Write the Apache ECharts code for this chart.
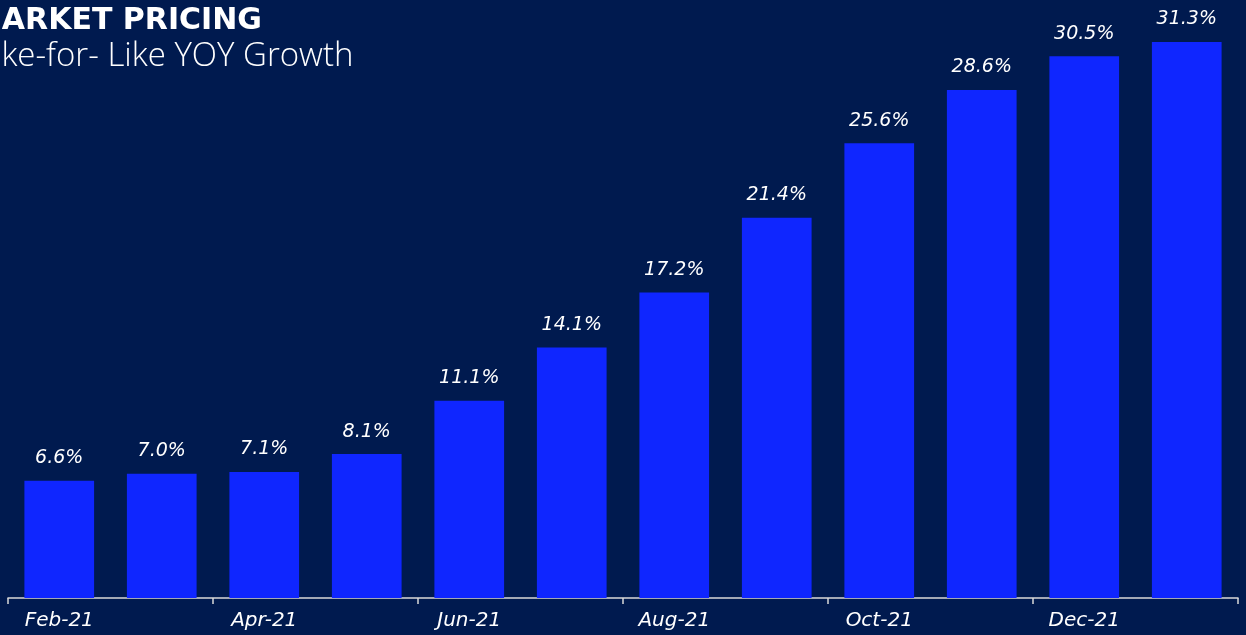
<!DOCTYPE html>
<html>
  <head>
      <meta charset="utf-8">
      <script src="https://cdn.jsdelivr.net/npm/echarts@6/dist/echarts.min.js"></script>
      <style>
        html, body { margin: 0; padding: 0; background: #001a4f; }
      </style>
  </head>
  <body>
      <div id="main" style="width: 1246px;height:635px;"></div>
      <script type="text/javascript">
          var months = ['Feb-21', 'Mar-21', 'Apr-21', 'May-21', 'Jun-21', 'Jul-21',
                        'Aug-21', 'Sep-21', 'Oct-21', 'Nov-21', 'Dec-21', 'Jan-22'];
          var growth = [6.6, 7.0, 7.1, 8.1, 11.1, 14.1, 17.2, 21.4, 25.6, 28.6, 30.5, 31.3];

          var myChart = echarts.init(document.getElementById('main'));

          var option = {
              backgroundColor: '#001a4f',
              textStyle: { fontFamily: 'DejaVu Sans' },
              graphic: [
                  {
                      type: 'text',
                      left: -28,
                      top: 6,
                      style: {
                          text: 'MARKET PRICING',
                          fill: '#ffffff',
                          font: 'bold 30px "DejaVu Sans"'
                      }
                  },
                  {
                      type: 'text',
                      left: -23,
                      top: 40,
                      style: {
                          text: 'Like-for- Like YOY Growth',
                          fill: '#ffffff',
                          font: '300 33px "Open Sans"'
                      }
                  }
              ],
              grid: { left: 8, right: 8, top: 42, bottom: 37 },
              xAxis: {
                  type: 'category',
                  data: months,
                  axisLine: { lineStyle: { color: '#d9d9d9', width: 1.5 } },
                  axisTick: {
                      show: true,
                      interval: 1,
                      length: 6,
                      lineStyle: { color: '#d9d9d9', width: 1.5 }
                  },
                  axisLabel: {
                      interval: 1,
                      color: '#ffffff',
                      fontStyle: 'italic',
                      fontSize: 20,
                      margin: 13
                  }
              },
              yAxis: {
                  type: 'value',
                  min: 0,
                  max: 31.3,
                  show: false,
                  splitLine: { show: false }
              },
              series: [
                  {
                      type: 'bar',
                      data: growth,
                      barWidth: '68%',
                      itemStyle: { color: '#0f26ff' },
                      label: {
                          show: true,
                          position: 'top',
                          distance: 13,
                          color: '#ffffff',
                          fontStyle: 'italic',
                          fontSize: 19,
                          formatter: function (p) { return p.value.toFixed(1) + '%'; }
                      }
                  }
              ]
          };
          myChart.setOption(option);
      </script>
  </body>
</html>
